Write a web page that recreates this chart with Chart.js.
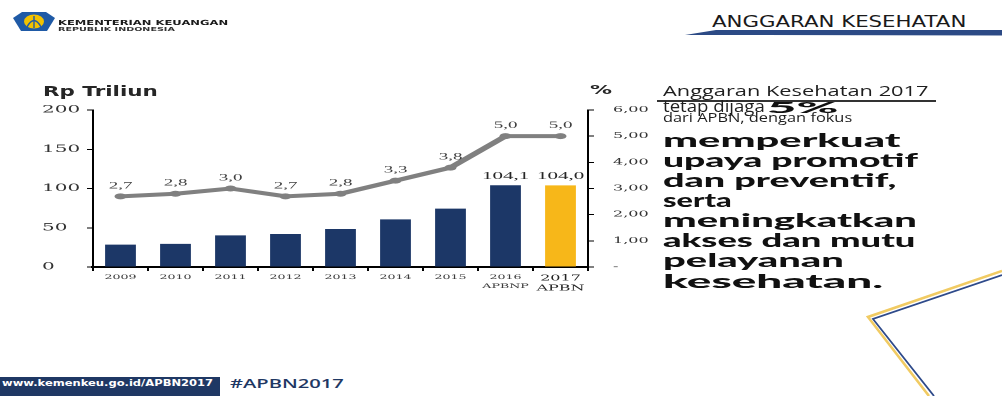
<!DOCTYPE html>
<html lang="id">
<head>
<meta charset="utf-8">
<title>Anggaran Kesehatan</title>
<script src="https://cdn.jsdelivr.net/npm/chart.js@4.4.1/dist/chart.umd.min.js"></script>
<style>
  html, body { margin: 0; padding: 0; background: #fff; }
  body { width: 1002px; height: 396px; position: relative; overflow: hidden; }
  #deco { position: absolute; left: 0; top: 0; }
  #chartBox { position: absolute; left: 0; top: 0; width: 340px; height: 310px;
              transform: scaleX(2); transform-origin: 0 0; }
  .t { position: absolute; left: 0; top: 0; white-space: nowrap; transform-origin: 0 0;
       line-height: normal; }
  .sans { font-family: "DejaVu Sans", sans-serif; }
  .body { font-family: "Open Sans", sans-serif; color: #1e1e1e; }
  .heavy { font-family: "Lato", sans-serif; font-weight: 900; color: #111; font-size: 19.5px; }
  #rule { position: absolute; left: 657px; top: 100px; width: 279px; height: 1.5px; background: #333; }
</style>
</head>
<body>
<svg id="deco" width="1002" height="396" viewBox="0 0 1002 396">
  <!-- ministry emblem -->
  <polygon points="13,18 22,12 46,12 55,18 47,31 21,31" fill="#1f5aa6"/>
  <ellipse cx="34" cy="21.5" rx="10" ry="7" fill="#f2c200"/>
  <path d="M27,27 Q34,14 41,27" stroke="#1f5aa6" stroke-width="1.4" fill="none"/>
  <line x1="34" y1="16" x2="34" y2="28" stroke="#1f5aa6" stroke-width="1.4"/>
  <!-- header underline bar -->
  <polygon points="685,35 716,30 1002,30 1002,35.5" fill="#2c4a85"/>
  <!-- footer address box -->
  <rect x="0" y="377" width="220" height="19" fill="#1f3864"/>
  <!-- corner frame lines -->
  <polyline points="1002,271 868,317 929,396" fill="none" stroke="#f1cb63" stroke-width="2.6"/>
  <polyline points="1002,275 873,319 934,396" fill="none" stroke="#2e4a8a" stroke-width="1.8"/>
</svg>

<div id="chartBox"><canvas id="chart"></canvas></div>
<div id="rule"></div>

<div class="t sans" data-x="58" data-b="24.5" data-w="170" style="font-size:7px;font-weight:bold;color:#1a1a1a">KEMENTERIAN KEUANGAN</div>
<div class="t sans" data-x="58" data-b="31" data-w="117" style="font-size:5.5px;font-weight:bold;color:#333">REPUBLIK INDONESIA</div>
<div class="t sans" data-x="712" data-b="26.5" data-w="254" style="font-size:15px;color:#1a1a1a">ANGGARAN KESEHATAN</div>

<div class="t sans" data-x="43" data-b="96" data-w="115" style="font-size:14px;font-weight:bold;color:#262626">Rp Triliun</div>
<div class="t sans" data-x="590" data-b="93.5" data-w="22" style="font-size:13px;font-weight:bold;color:#262626">%</div>

<div class="t body" data-x="663" data-b="95.5" data-w="266" style="font-size:15px">Anggaran Kesehatan 2017</div>
<div class="t body" data-x="663" data-b="112" data-w="102" style="font-size:15.5px">tetap dijaga</div>
<div class="t heavy" data-x="767" data-b="113" data-w="71" style="font-size:15px">5%</div>
<div class="t body" data-x="663" data-b="122" data-w="189" style="font-size:13px">dari APBN, dengan fokus</div>
<div class="t heavy" data-x="663" data-b="147" data-w="237">memperkuat</div>
<div class="t heavy" data-x="663" data-b="167" data-w="254">upaya promotif</div>
<div class="t heavy" data-x="663" data-b="187" data-w="234">dan preventif,</div>
<div class="t heavy" data-x="663" data-b="207" data-w="69">serta</div>
<div class="t heavy" data-x="663" data-b="227" data-w="254">meningkatkan</div>
<div class="t heavy" data-x="663" data-b="247" data-w="253">akses dan mutu</div>
<div class="t heavy" data-x="663" data-b="267" data-w="180">pelayanan</div>
<div class="t heavy" data-x="663" data-b="288" data-w="221">kesehatan.</div>

<div class="t sans" data-x="2" data-b="386" data-w="211" style="font-size:9px;font-weight:bold;color:#fff">www.kemenkeu.go.id/APBN2017</div>
<div class="t body" data-x="230" data-b="388" data-w="113" style="font-size:13px;font-weight:600;color:#1f3864">#APBN2017</div>

<script>
// Health budget (Rp trillion) and its share of total state spending (%)
const categories = ['2009', '2010', '2011', '2012', '2013', '2014', '2015', ['2016', 'APBNP'], ['2017', 'APBN']];
const budgetTrillion = [28.5, 29.5, 40.3, 42.0, 48.4, 60.7, 74.4, 104.1, 104.0];
const sharePercent = [2.7, 2.8, 3.0, 2.7, 2.8, 3.3, 3.8, 5.0, 5.0];
const budgetTicks = [0, 50, 100, 150, 200];
const percentTicks = [0, 1, 2, 3, 4, 5, 6];
const labelledBars = [7, 8];

const NAVY = '#1c3767';
const GOLD = '#f7b719';
const LINE_GREY = '#808080';

const comma = (v, d) => v.toFixed(d).replace('.', ',');

// Numbers printed above the line points and the two latest bars
const valueLabels = {
  id: 'valueLabels',
  afterDatasetsDraw(chart) {
    const ctx = chart.ctx;
    ctx.save();
    ctx.textAlign = 'center';
    ctx.textBaseline = 'alphabetic';

    const lineMeta = chart.getDatasetMeta(0);
    ctx.font = '9.5px "Liberation Serif", serif';
    ctx.fillStyle = '#404040';
    lineMeta.data.forEach((pt, i) => {
      ctx.fillText(comma(sharePercent[i], 1), pt.x, pt.y - 8);
    });

    const barMeta = chart.getDatasetMeta(1);
    ctx.font = '10.5px "Liberation Serif", serif';
    ctx.fillStyle = '#262626';
    labelledBars.forEach(i => {
      const bar = barMeta.data[i];
      ctx.fillText(comma(budgetTrillion[i], 1), bar.x, bar.y - 6.5);
    });
    ctx.restore();
  }
};

function buildChart() {
  const last = categories.length - 1;
  new Chart(document.getElementById('chart'), {
    data: {
      labels: categories,
      datasets: [
        {
          type: 'line',
          label: '% APBN',
          data: sharePercent,
          yAxisID: 'y1',
          borderColor: LINE_GREY,
          backgroundColor: LINE_GREY,
          borderWidth: 4,
          pointRadius: 3,
          pointBackgroundColor: LINE_GREY,
          pointBorderWidth: 0,
          tension: 0,
          order: 0
        },
        {
          type: 'bar',
          label: 'Rp Triliun',
          data: budgetTrillion,
          yAxisID: 'y',
          backgroundColor: ctx => ctx.dataIndex === last ? GOLD : NAVY,
          categoryPercentage: 1,
          barPercentage: 0.56,
          order: 1
        }
      ]
    },
    options: {
      responsive: true,
      maintainAspectRatio: false,
      animation: false,
      devicePixelRatio: 2,
      layout: { padding: { left: 21, right: 16, top: 110, bottom: 13 } },
      plugins: { legend: { display: false }, tooltip: { enabled: false }, title: { display: false } },
      scales: {
        x: {
          offset: true,
          border: { display: true, color: '#000', width: 2 },
          grid: { display: true, drawOnChartArea: false, drawTicks: true, tickLength: 4, color: '#000', lineWidth: 1, offset: true },
          ticks: {
            padding: 2,
            maxRotation: 0,
            autoSkip: false,
            color: c => c.index === last ? '#222' : '#3a3a3a',
            font: c => c.index === last
              ? { family: '"DejaVu Serif", serif', size: 8, lineHeight: 1.3 }
              : { family: '"DejaVu Serif", serif', size: 6.3, lineHeight: 1.4 }
          },
          afterFit: s => { s.height = 30; }
        },
        y: {
          position: 'left',
          min: budgetTicks[0],
          max: budgetTicks[budgetTicks.length - 1],
          border: { display: true, color: '#000', width: 1 },
          grid: { display: true, drawOnChartArea: false, drawTicks: true, tickLength: 3, color: '#000', lineWidth: 1 },
          ticks: {
            stepSize: budgetTicks[1] - budgetTicks[0],
            crossAlign: 'far',
            padding: 4,
            color: '#333',
            font: { family: '"DejaVu Serif", serif', size: 10 }
          },
          afterFit: s => { s.width = 25.5; }
        },
        y1: {
          position: 'right',
          min: percentTicks[0],
          max: percentTicks[percentTicks.length - 1],
          border: { display: true, color: '#000', width: 1 },
          grid: { display: true, drawOnChartArea: false, drawTicks: true, tickLength: 3, color: '#000', lineWidth: 1 },
          ticks: {
            stepSize: percentTicks[1] - percentTicks[0],
            padding: 9.5,
            color: '#333',
            font: { family: '"DejaVu Serif", serif', size: 8 },
            callback: v => v === 0 ? '-' : comma(v, 2)
          },
          afterFit: s => { s.width = 30; }
        }
      }
    },
    plugins: [valueLabels]
  });
}

// Set each text line on its baseline and stretch it to its column width
function placeTexts() {
  document.querySelectorAll('.t').forEach(el => {
    const mark = document.createElement('span');
    mark.style.cssText = 'display:inline-block;width:0;height:0;vertical-align:baseline';
    el.appendChild(mark);
    const natural = el.offsetWidth;
    const base = mark.offsetTop;
    el.style.left = el.dataset.x + 'px';
    el.style.top = (parseFloat(el.dataset.b) - base) + 'px';
    el.style.transform = 'scaleX(' + (parseFloat(el.dataset.w) / natural) + ')';
  });
}

document.fonts.ready.then(() => {
  placeTexts();
  buildChart();
});
</script>
</body>
</html>
